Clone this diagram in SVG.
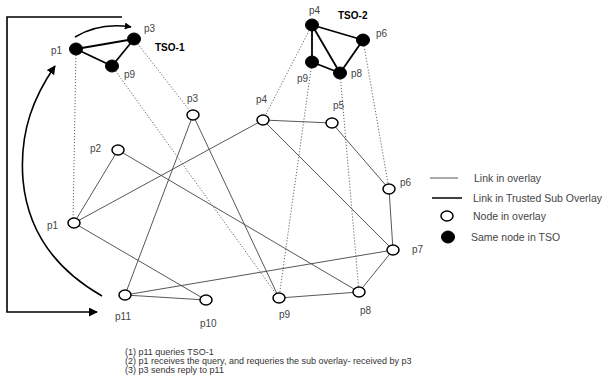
<svg xmlns="http://www.w3.org/2000/svg" width="610" height="380" viewBox="0 0 610 380">
<defs>
<marker id="ah" viewBox="0 0 10 10" refX="9" refY="5" markerWidth="7" markerHeight="7" orient="auto" markerUnits="userSpaceOnUse">
<path d="M0,0 L10,5 L0,10 z" fill="#000"/>
</marker>
<marker id="ah2" viewBox="0 0 10 10" refX="9" refY="5" markerWidth="9" markerHeight="9" orient="auto" markerUnits="userSpaceOnUse">
<path d="M0,0 L10,5 L0,10 z" fill="#000"/>
</marker>
</defs>
<style>
.ov{stroke:#444;stroke-width:0.9;fill:none}
.ts{stroke:#000;stroke-width:1.8;fill:none}
.dt{stroke:#555;stroke-width:0.9;stroke-dasharray:1.2,1.8;fill:none}
.on{fill:#fff;stroke:#000;stroke-width:1.5}
.fn{fill:#000;stroke:#000;stroke-width:1}
.lb{font-family:"Liberation Sans",Arial,sans-serif;font-size:10px;fill:#444}
.bd{font-family:"Liberation Sans",Arial,sans-serif;font-size:10px;font-weight:bold;fill:#000}
.lg{font-family:"Liberation Sans",Arial,sans-serif;font-size:10.5px;fill:#444}
.nt{font-family:"Liberation Sans",Arial,sans-serif;font-size:9px;fill:#333}
.ar{stroke:#000;stroke-width:1.6;fill:none}
</style>
<rect width="610" height="380" fill="#fff"/>
<g id="connectors">
<!-- overlay links -->
<line class="ov" x1="263" y1="120" x2="332" y2="123"/>
<line class="ov" x1="332" y1="123" x2="389" y2="189"/>
<line class="ov" x1="263" y1="120" x2="393" y2="250"/>
<line class="ov" x1="263" y1="120" x2="74" y2="223"/>
<line class="ov" x1="389" y1="189" x2="393" y2="250"/>
<line class="ov" x1="393" y1="250" x2="359" y2="292"/>
<line class="ov" x1="359" y1="292" x2="279" y2="298"/>
<line class="ov" x1="125" y1="295" x2="393" y2="250"/>
<line class="ov" x1="125" y1="295" x2="206" y2="300"/>
<line class="ov" x1="125" y1="295" x2="193" y2="115"/>
<line class="ov" x1="193" y1="115" x2="279" y2="298"/>
<line class="ov" x1="74" y1="223" x2="118" y2="150"/>
<line class="ov" x1="74" y1="223" x2="206" y2="300"/>
<line class="ov" x1="118" y1="150" x2="359" y2="292"/>
<!-- dotted correspondences -->
<line class="dt" x1="76" y1="49" x2="73" y2="223"/>
<line class="dt" x1="134" y1="39" x2="193" y2="115"/>
<line class="dt" x1="112" y1="66" x2="279" y2="298"/>
<line class="dt" x1="312" y1="25" x2="263" y2="120"/>
<line class="dt" x1="312" y1="62" x2="279" y2="298"/>
<line class="dt" x1="340" y1="73" x2="359" y2="292"/>
<line class="dt" x1="363" y1="40" x2="389" y2="189"/>
<!-- TSO links -->
<line class="ts" x1="76" y1="49" x2="134" y2="39"/>
<line class="ts" x1="76" y1="49" x2="112" y2="66"/>
<line class="ts" x1="112" y1="66" x2="134" y2="39"/>
<line class="ts" x1="312" y1="25" x2="363" y2="40"/>
<line class="ts" x1="312" y1="25" x2="312" y2="62"/>
<line class="ts" x1="312" y1="25" x2="340" y2="73"/>
<line class="ts" x1="312" y1="62" x2="340" y2="73"/>
<line class="ts" x1="340" y1="73" x2="363" y2="40"/>
<!-- process arrows -->
<path class="ar" d="M75,37 Q100,22 131,27" marker-end="url(#ah)"/>
<path class="ar" d="M102,296 C60,272 28,235 23,180 C19,130 35,95 55,66" marker-end="url(#ah2)"/>
<path class="ar" d="M122,17 L7,17 L7,312 L97,312" marker-end="url(#ah2)"/>
</g>
<g id="tso1">
<ellipse class="fn" cx="76" cy="49" rx="6.5" ry="6"/>
<ellipse class="fn" cx="134" cy="39" rx="6.5" ry="6"/>
<ellipse class="fn" cx="112" cy="66" rx="6.5" ry="6"/>
<text class="lb" x="51" y="54">p1</text>
<text class="lb" x="144" y="32">p3</text>
<text class="lb" x="124" y="78">p9</text>
<text class="bd" x="155" y="51">TSO-1</text>
</g>
<g id="tso2">
<ellipse class="fn" cx="312" cy="25" rx="6.5" ry="6"/>
<ellipse class="fn" cx="363" cy="40" rx="6.5" ry="6"/>
<ellipse class="fn" cx="312" cy="62" rx="6.5" ry="6"/>
<ellipse class="fn" cx="340" cy="73" rx="6.5" ry="6"/>
<text class="lb" x="309" y="14">p4</text>
<text class="bd" x="338" y="19">TSO-2</text>
<text class="lb" x="376" y="37">p6</text>
<text class="lb" x="297" y="82">p9</text>
<text class="lb" x="351" y="77">p8</text>
</g>
<g id="n-p3"><ellipse class="on" cx="193" cy="115" rx="6" ry="5"/><text class="lb" x="187" y="102">p3</text></g>
<g id="n-p4"><ellipse class="on" cx="263" cy="120" rx="6" ry="5"/><text class="lb" x="256" y="103">p4</text></g>
<g id="n-p5"><ellipse class="on" cx="332" cy="123" rx="6" ry="5"/><text class="lb" x="333" y="109">p5</text></g>
<g id="n-p2"><ellipse class="on" cx="118" cy="150" rx="6" ry="5"/><text class="lb" x="90" y="152">p2</text></g>
<g id="n-p6"><ellipse class="on" cx="389" cy="189" rx="6" ry="5"/><text class="lb" x="400" y="186">p6</text></g>
<g id="n-p1"><ellipse class="on" cx="74" cy="223" rx="6" ry="5"/><text class="lb" x="47" y="229">p1</text></g>
<g id="n-p7"><ellipse class="on" cx="393" cy="250" rx="6" ry="5"/><text class="lb" x="412" y="253">p7</text></g>
<g id="n-p11"><ellipse class="on" cx="125" cy="295" rx="6" ry="5"/><text class="lb" x="115" y="320">p11</text></g>
<g id="n-p10"><ellipse class="on" cx="206" cy="300" rx="6" ry="5"/><text class="lb" x="200" y="327">p10</text></g>
<g id="n-p9"><ellipse class="on" cx="279" cy="298" rx="6" ry="5"/><text class="lb" x="279" y="318">p9</text></g>
<g id="n-p8"><ellipse class="on" cx="359" cy="292" rx="6" ry="5"/><text class="lb" x="360" y="314">p8</text></g>
<g id="legend">
<line class="ov" x1="430" y1="178" x2="458" y2="178"/>
<text class="lg" x="474" y="182">Link in overlay</text>
<line class="ts" x1="432" y1="198" x2="462" y2="198" style="stroke-width:1.5"/>
<text class="lg" x="473" y="202">Link in Trusted Sub Overlay</text>
<ellipse class="on" cx="447" cy="216" rx="6" ry="5"/>
<text class="lg" x="473" y="220">Node in overlay</text>
<ellipse class="fn" cx="448" cy="237" rx="6.5" ry="6"/>
<text class="lg" x="471" y="241">Same node in TSO</text>
</g>
<g id="notes">
<text class="nt" x="125" y="355">(1) p11 queries TSO-1</text>
<text class="nt" x="125" y="364">(2) p1 receives the query, and requeries the sub overlay- received by p3</text>
<text class="nt" x="125" y="373">(3) p3 sends reply to p11</text>
</g>
</svg>
